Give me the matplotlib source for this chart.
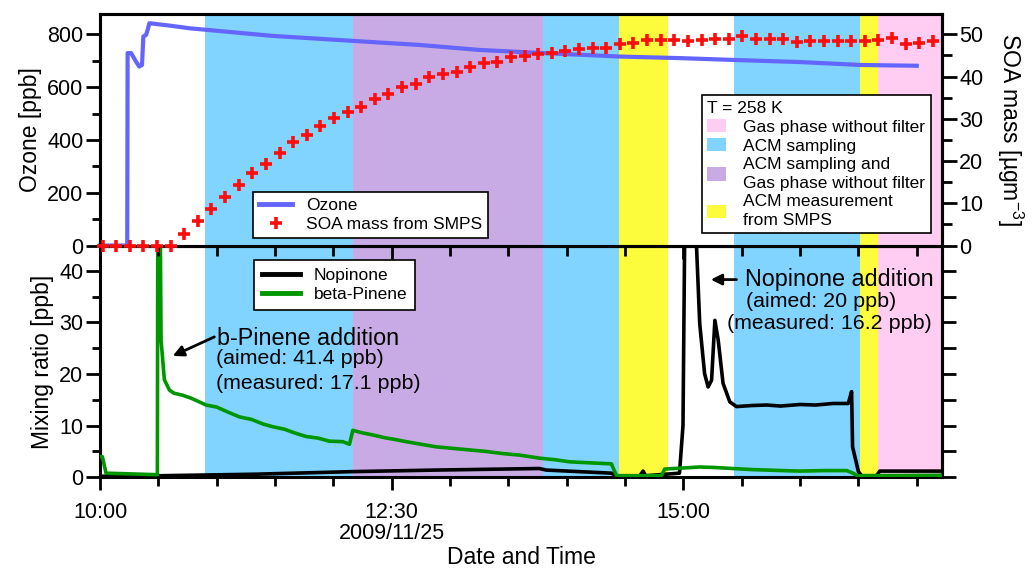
import pandas as pd
import matplotlib
matplotlib.use("Agg")
import matplotlib.pyplot as plt
import matplotlib.dates as mdates
from matplotlib.ticker import MultipleLocator
from matplotlib.lines import Line2D
from matplotlib.patches import Patch

plt.rcParams['font.family'] = ['Liberation Sans', 'DejaVu Sans']
plt.rcParams['mathtext.fontset'] = 'custom'
plt.rcParams['mathtext.rm'] = 'Liberation Sans'
plt.rcParams['mathtext.it'] = 'Liberation Sans:italic'
plt.rcParams['mathtext.bf'] = 'Liberation Sans:bold'

T0 = pd.Timestamp("2009-11-25 10:00")
T_END = pd.Timestamp("2009-11-25 17:13")

# ---- ozone (minutes after 10:00, ppb)
ozone_min = [0, 14.0, 14.2, 16.0, 18.5, 20.2, 21.6, 22.3, 23.7, 24.5, 25.4, 28, 37, 46,
             89, 146, 164, 195, 228, 267, 298, 326, 360, 391, 420]
ozone_ppb = [0, 0, 729, 729, 697, 678, 684, 792, 798, 817, 842, 840, 832, 823,
             794, 768, 760, 741, 729, 716, 710, 703, 695, 684, 681]

# ---- SOA mass from SMPS (one scan every 7 min, ug m-3)
soa_start = "2009-11-25 10:01:20"
soa_mass = [0, 0, 0, 0, 0, 0,
            2.8, 5.8, 8.6, 11.5, 14.3, 17.1, 19.4, 21.8, 24.4, 26.2, 28.2, 30.2, 31.7, 32.9,
            34.8, 35.9, 37.5, 38.2, 39.9, 40.7, 41.2, 42.2, 43.3, 43.5, 44.6, 44.8, 45.4,
            45.6, 46.0, 46.6, 46.8, 46.8, 47.6, 48.0, 48.6, 48.6, 48.6, 48.4, 48.6, 49.0,
            48.8, 49.5, 49.0, 49.0, 49.0, 48.2, 48.4, 48.4, 48.4, 48.4, 48.4, 48.6, 49.2,
            47.8, 48.0, 48.4]

# ---- beta-pinene (minutes after 10:00, ppb)
pinene_min = [0, 1.2, 3.1, 29.5, 29.7, 31.0, 31.4, 33.1, 35.7, 38, 42.5, 47, 54.6, 60,
              66, 71.7, 78, 84, 88.8, 95, 100, 106, 112, 118, 124.9, 128.3, 130.0, 135,
              140.3, 146, 152, 157.5, 165, 172.9, 181.5, 190, 198.7, 207, 215.8, 226.1,
              234, 241.5, 252, 263.0, 265.6, 288.7, 290.4, 300, 308.3, 316, 325.4, 335,
              342.8, 351, 359.9, 372, 384.0, 387.2, 389.7, 432.8]
pinene_ppb = [4.0, 4.0, 0.8, 0.5, 48, 48, 26.6, 18.9, 16.9, 16.3, 15.9, 15.3, 14.0, 13.6,
              12.6, 11.7, 11.2, 10.3, 9.8, 9.3, 8.6, 7.9, 7.6, 7.0, 6.9, 6.4, 9.1, 8.6,
              8.2, 7.7, 7.3, 6.9, 6.4, 5.9, 5.6, 5.3, 5.0, 4.6, 4.3, 3.7,
              3.4, 3.0, 2.8, 2.6, 0.3, 0.3, 1.6, 1.8, 2.0, 1.9, 1.7, 1.5,
              1.4, 1.3, 1.2, 1.3, 1.3, 0.8, 0.3, 0.4]

# ---- nopinone (minutes after 10:00, ppb)
nopinone_min = [0, 30, 80, 130, 173, 226, 229.5, 263, 265.6, 277.6, 279.3, 280.6, 298,
                299.8, 300.7, 306.4, 308.4, 310.9, 312.7, 314.5, 316.2, 317.9, 320.4,
                323.9, 327.3, 335, 342.8, 350, 360, 368, 377, 384.8, 386.5, 387, 390,
                391.7, 399.3, 401, 432.8]
nopinone_ppb = [0.2, 0.3, 0.6, 1.1, 1.4, 1.7, 1.4, 0.8, 0.3, 0.3, 1.2, 0.3, 0.8,
                10, 48, 48, 29.8, 20.1, 17.5, 18.8, 30.4, 26.6, 18.2,
                14.6, 13.7, 13.9, 14.0, 13.8, 14.1, 14.0, 14.3, 14.3, 16.6, 5.9, 1.1,
                0.3, 0.3, 1.2, 1.2]

# ---- experiment phases
band_start = ["10:54", "12:10", "13:48", "14:27", "15:26", "16:31", "16:40"]
band_end = ["12:10", "13:48", "14:27", "14:52", "16:31", "16:40", "17:13"]
band_kind = ["acm", "acm_gas", "acm", "smps", "acm", "smps", "gas"]

phase_colors = {"gas": "#ffccf2", "acm": "#80d4ff", "acm_gas": "#c8aae4", "smps": "#fcfc3c"}
phase_labels = {"gas": "Gas phase without filter",
                "acm": "ACM sampling",
                "acm_gas": "ACM sampling and\nGas phase without filter",
                "smps": "ACM measurement\nfrom SMPS"}


def at(minutes):
    return T0 + pd.to_timedelta(minutes, unit="m")


def clock(hm):
    return pd.Timestamp("2009-11-25 " + hm)


OZ_C = "#6464ff"
GREEN = "#009600"
RED = "#ff0d0d"

fig = plt.figure(figsize=(10.32, 5.77), dpi=100)
ax_top = fig.add_axes([0.0969, 0.5745, 0.8159, 0.4012])
ax_low = fig.add_axes([0.0969, 0.1728, 0.8159, 0.4017], sharex=ax_top)
ax_soa = ax_top.twinx()
ax_low.set_zorder(1)
ax_top.set_zorder(2)
ax_soa.set_zorder(3)

for ax in (ax_top, ax_low):
    for s, e, k in zip(band_start, band_end, band_kind):
        ax.axvspan(clock(s), clock(e), color=phase_colors[k], lw=0, zorder=0)

# top panel
ax_top.plot(at(ozone_min), ozone_ppb, color=OZ_C, lw=3, zorder=3, clip_on=False)
soa_time = pd.date_range(soa_start, periods=len(soa_mass), freq="7min")
ax_soa.plot(soa_time, soa_mass, ls="none", marker="+", ms=9, mew=2.6, color=RED,
            clip_on=False, zorder=4)

ax_top.set_ylim(0, 877)
ax_soa.set_ylim(0, 877 / 16.0)
ax_top.yaxis.set_major_locator(MultipleLocator(200))
ax_top.yaxis.set_minor_locator(MultipleLocator(100))
ax_soa.yaxis.set_major_locator(MultipleLocator(10))
ax_soa.yaxis.set_minor_locator(MultipleLocator(5))

# lower panel
ax_low.plot(at(nopinone_min), nopinone_ppb, color="black", lw=2.6, zorder=3)
ax_low.plot(at(pinene_min), pinene_ppb, color=GREEN, lw=2.6, zorder=3)
ax_low.set_ylim(0, 44.9)
ax_low.yaxis.set_major_locator(MultipleLocator(10))
ax_low.yaxis.set_minor_locator(MultipleLocator(5))
low_r = ax_low.secondary_yaxis("right")
low_r.yaxis.set_major_locator(MultipleLocator(5))
low_r.tick_params(length=10, width=2, labelright=False)
low_r.spines["right"].set_linewidth(2.2)

ax_low.set_xlim(T0, T_END)
major_t = [clock("10:00"), clock("12:30"), clock("15:00")]
ax_low.set_xticks(major_t, ["10:00", "12:30\n2009/11/25", "15:00"])
ax_low.xaxis.set_minor_locator(mdates.MinuteLocator(byminute=[0, 30]))
for lab in ax_low.get_xticklabels():
    lab.set_linespacing(1.0)

for ax in (ax_top, ax_low, ax_soa):
    for sp in ax.spines.values():
        sp.set_linewidth(2.2)

ax_top.tick_params(axis="x", which="both", bottom=True, top=False, labelbottom=False,
                   direction="out", width=2)
ax_top.tick_params(axis="x", which="major", length=9.5)
ax_top.tick_params(axis="x", which="minor", length=7.5)
ax_low.tick_params(axis="x", which="major", length=9.5, width=2, pad=8, labelsize=15.5)
ax_low.tick_params(axis="x", which="minor", length=6.5, width=2)
for ax in (ax_top, ax_low):
    ax.tick_params(axis="y", which="major", length=10, width=2, labelsize=15.5, pad=2)
    ax.tick_params(axis="y", which="minor", length=6, width=2)
ax_soa.tick_params(axis="y", which="major", length=10.5, width=2, labelsize=15.5, pad=2)
ax_soa.tick_params(axis="y", which="minor", length=7, width=2)

ax_top.set_ylabel("Ozone [ppb]", fontsize=16.5, labelpad=4)
ax_low.set_ylabel("Mixing ratio [ppb]", fontsize=16.5, labelpad=4)
ax_soa.set_ylabel("SOA mass [µgm$^{-3}$]", fontsize=16.5, rotation=270, labelpad=30)
ax_low.set_xlabel("Date and Time", fontsize=16.5, labelpad=2)

# legends
leg_kw = dict(frameon=True, fancybox=False, framealpha=1, edgecolor="black",
              borderaxespad=0, fontsize=12.5)
h1 = [Line2D([], [], color=OZ_C, lw=3.5),
      Line2D([], [], ls="none", marker="+", ms=9, mew=2.6, color=RED)]
lg1 = ax_soa.legend(h1, ["Ozone", "SOA mass from SMPS"], loc="lower left",
                    bbox_to_anchor=(0.182, 0.032), handlelength=1.9, borderpad=0.35,
                    labelspacing=0.2, handletextpad=0.8, **leg_kw)
lg1.get_frame().set_linewidth(1.2)

kinds = ["gas", "acm", "acm_gas", "smps"]
h2 = [Patch(facecolor=phase_colors[k], edgecolor="none") for k in kinds]
lg2 = ax_soa.legend(h2, [phase_labels[k] for k in kinds], loc="lower left",
                    bbox_to_anchor=(0.7146, 0.053), title="T = 258 K", title_fontsize=12.5,
                    alignment="left", handlelength=1.1, handleheight=0.8,
                    labelspacing=0.2, handletextpad=1.0, borderpad=0.3, **leg_kw)
for t in lg2.get_texts():
    t.set_linespacing(1.3)
lg2.get_frame().set_linewidth(1.2)
ax_soa.add_artist(lg1)

h3 = [Line2D([], [], color="black", lw=3.5), Line2D([], [], color=GREEN, lw=3.5)]
lg3 = ax_low.legend(h3, ["Nopinone", "beta-Pinene"], loc="upper left",
                    bbox_to_anchor=(0.183, 0.937), handlelength=2.2, borderpad=0.45,
                    labelspacing=0.2, handletextpad=0.8, **leg_kw)
lg3.get_frame().set_linewidth(1.2)

# annotations
arrow = dict(arrowstyle="-|>", color="black", lw=2, mutation_scale=16,
             shrinkA=0, shrinkB=0)
ax_low.annotate("", xy=(at(37.4), 23.5), xytext=(at(58.8), 27.2), arrowprops=arrow)
ax_low.text(at(60.4), 26.9, "b-Pinene addition", fontsize=16.8, va="center", ha="left")
ax_low.text(at(59.7), 23.1, "(aimed: 41.4 ppb)", fontsize=15.4, va="center", ha="left")
ax_low.text(at(59.7), 18.2, "(measured: 17.1 ppb)", fontsize=15.4, va="center", ha="left")

ax_low.annotate("", xy=(at(314.1), 38.3), xytext=(at(327.3), 38.3), arrowprops=arrow)
ax_low.text(at(331.6), 38.3, "Nopinone addition", fontsize=16.8, va="center", ha="left")
ax_low.text(at(332.0), 34.0, "(aimed: 20 ppb)", fontsize=15.4, va="center", ha="left")
ax_low.text(at(322.2), 29.8, "(measured: 16.2 ppb)", fontsize=15.4, va="center", ha="left")

fig.savefig("out.png", dpi=100)
